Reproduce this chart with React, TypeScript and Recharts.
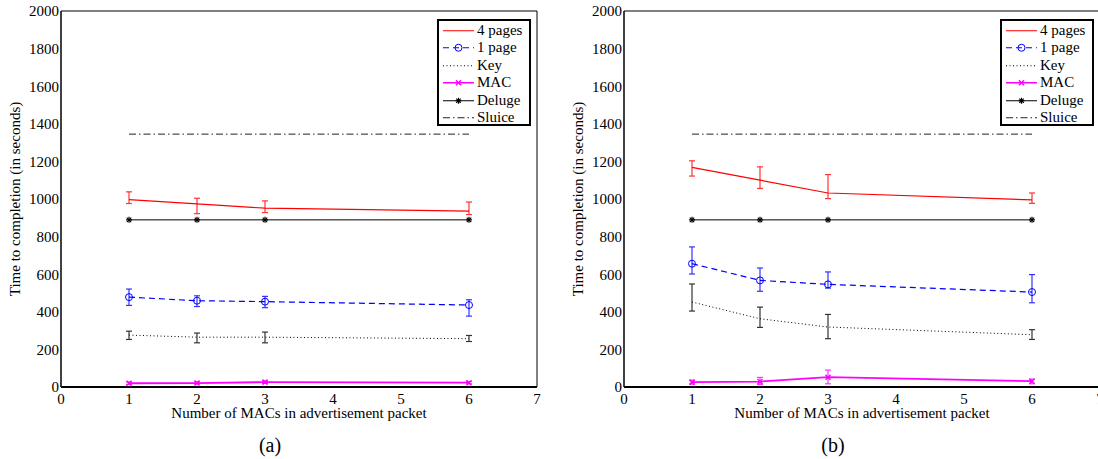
import React from 'react';
import { ComposedChart, Line, XAxis, YAxis, ErrorBar, Legend, Label } from 'recharts';

// ---------- data ----------
const macCounts = [1, 2, 3, 6];
const xTicks = [0, 1, 2, 3, 4, 5, 6, 7];
const yTicks = [0, 200, 400, 600, 800, 1000, 1200, 1400, 1600, 1800, 2000];
const seriesNames = ['4 pages', '1 page', 'Key', 'MAC', 'Deluge', 'Sluice'];
const xAxisTitle = 'Number of MACs in advertisement packet';
const yAxisTitle = 'Time to completion (in seconds)';

// Panel (a)
const aFourPages = [997, 974, 951, 935];
const aFourPagesLow = [976, 922, 928, 917];
const aFourPagesHigh = [1038, 1004, 990, 984];
const aOnePage = [478, 459, 454, 436];
const aOnePageLow = [434, 428, 422, 377];
const aOnePageHigh = [521, 485, 482, 464];
const aKey = [276, 265, 265, 257];
const aKeyLow = [253, 235, 235, 242];
const aKeyHigh = [297, 287, 292, 274];
const aMac = [20, 21, 26, 23];
const aMacLow = [14, 16, 19, 17];
const aMacHigh = [27, 28, 33, 29];
const aDeluge = [889, 889, 889, 889];
const aSluice = [1345, 1345, 1345, 1345];

// Panel (b)
const bFourPages = [1168, 1100, 1032, 995];
const bFourPagesLow = [1122, 1056, 1002, 977];
const bFourPagesHigh = [1203, 1171, 1130, 1032];
const bOnePage = [656, 567, 546, 505];
const bOnePageLow = [601, 509, 526, 448];
const bOnePageHigh = [745, 633, 612, 598];
const bKey = [452, 363, 319, 278];
const bKeyLow = [404, 317, 257, 253];
const bKeyHigh = [548, 425, 386, 305];
const bMac = [26, 29, 52, 31];
const bMacLow = [15, 13, 17, 17];
const bMacHigh = [36, 51, 90, 42];
const bDeluge = [889, 889, 889, 889];
const bSluice = [1345, 1345, 1345, 1345];

const buildRows = (
  p4: number[], p4L: number[], p4H: number[],
  p1: number[], p1L: number[], p1H: number[],
  k: number[], kL: number[], kH: number[],
  m: number[], mL: number[], mH: number[],
  d: number[], s: number[]
) =>
  macCounts.map((x, i) => ({
    x,
    p4: p4[i], p4Err: [p4[i] - p4L[i], p4H[i] - p4[i]],
    p1: p1[i], p1Err: [p1[i] - p1L[i], p1H[i] - p1[i]],
    key: k[i], keyErr: [k[i] - kL[i], kH[i] - k[i]],
    mac: m[i], macErr: [m[i] - mL[i], mH[i] - m[i]],
    deluge: d[i],
    sluice: s[i],
  }));

const dataA = buildRows(aFourPages, aFourPagesLow, aFourPagesHigh, aOnePage, aOnePageLow, aOnePageHigh,
  aKey, aKeyLow, aKeyHigh, aMac, aMacLow, aMacHigh, aDeluge, aSluice);
const dataB = buildRows(bFourPages, bFourPagesLow, bFourPagesHigh, bOnePage, bOnePageLow, bOnePageHigh,
  bKey, bKeyLow, bKeyHigh, bMac, bMacLow, bMacHigh, bDeluge, bSluice);

// ---------- styling ----------
const FONT = 'Liberation Serif';
const RED = '#ff0000';
const BLUE = '#0000ff';
const MAGENTA = '#ff00ff';
const BLACK = '#000000';
const SLUICE = '#222222';

const CircleMark = ({ cx, cy, color }: any) => (
  <circle cx={cx} cy={cy} r={3.5} fill="none" stroke={color} strokeWidth={1} />
);
const XMark = ({ cx, cy, color }: any) => (
  <g stroke={color} strokeWidth={1.5}>
    <line x1={cx - 2.5} y1={cy - 2.5} x2={cx + 2.5} y2={cy + 2.5} />
    <line x1={cx - 2.5} y1={cy + 2.5} x2={cx + 2.5} y2={cy - 2.5} />
  </g>
);
const StarMark = ({ cx, cy, color }: any) => (
  <g stroke={color} strokeWidth={1.2}>
    <line x1={cx - 3} y1={cy} x2={cx + 3} y2={cy} />
    <line x1={cx} y1={cy - 3} x2={cx} y2={cy + 3} />
    <line x1={cx - 2.2} y1={cy - 2.2} x2={cx + 2.2} y2={cy + 2.2} />
    <line x1={cx - 2.2} y1={cy + 2.2} x2={cx + 2.2} y2={cy - 2.2} />
  </g>
);

const dotRenderer = (Mark: any, color: string) => (props: any) => {
  const { cx, cy, index } = props;
  if (cx == null || cy == null) return <g key={`n${index}`} />;
  return <Mark key={`m${index}`} cx={cx} cy={cy} color={color} />;
};

const legendItems = [
  { name: seriesNames[0], color: RED, dash: undefined, mark: null, width: 1 },
  { name: seriesNames[1], color: BLUE, dash: '6 4', mark: CircleMark, width: 1 },
  { name: seriesNames[2], color: BLACK, dash: '1 2.5', mark: null, width: 1 },
  { name: seriesNames[3], color: MAGENTA, dash: undefined, mark: XMark, width: 1.5 },
  { name: seriesNames[4], color: BLACK, dash: undefined, mark: StarMark, width: 1 },
  { name: seriesNames[5], color: SLUICE, dash: '7 3 1.5 3', mark: null, width: 1 },
];

const LegendBox = () => (
  <div
    style={{
      boxSizing: 'border-box',
      width: 94,
      height: 107,
      border: '2px solid #000',
      background: '#fff',
      paddingTop: 0.5,
      fontFamily: FONT,
      fontSize: 15,
      color: '#000',
    }}
  >
    {legendItems.map((it) => {
      const M: any = it.mark;
      return (
        <div key={it.name} style={{ display: 'flex', alignItems: 'center', height: 17.5, lineHeight: '17.5px' }}>
          <svg width={38} height={17.5} style={{ display: 'block', flex: 'none' }}>
            <line x1={4} y1={8.75} x2={35} y2={8.75} stroke={it.color} strokeWidth={it.width} strokeDasharray={it.dash} />
            {M ? <M cx={19.5} cy={8.75} color={it.color} /> : null}
          </svg>
          <span style={{ whiteSpace: 'nowrap', fontFamily: FONT }}>{it.name}</span>
        </div>
      );
    })}
  </div>
);

const tickStyle = { fontFamily: FONT, fontSize: 15, fill: '#000', style: { fontFamily: FONT } };
const labelStyle = { fontFamily: FONT, fontSize: 15, fill: '#000' };

const Panel = ({ data, caption, left }: { data: any[]; caption: string; left: number }) => (
  <div style={{ position: 'absolute', left, top: 0, width: 560, height: 459, fontFamily: FONT }}>
    <ComposedChart
      width={560}
      height={459}
      data={data}
      margin={{ top: 11, right: 23, bottom: 41, left: 0 }}
      style={{ fontFamily: FONT }}
    >
      <XAxis
        xAxisId="x"
        dataKey="x"
        type="number"
        domain={[0, 7]}
        ticks={xTicks}
        interval={0}
        allowDecimals={false}
        height={31}
        tickLine={false}
        tickSize={4}
        tickMargin={2}
        axisLine={{ stroke: '#000', strokeWidth: 2 }}
        tick={tickStyle}
      >
        <Label value={xAxisTitle} position="insideBottom" offset={0} style={labelStyle} />
      </XAxis>
      <XAxis
        xAxisId="xm"
        type="number"
        domain={[0, 7]}
        ticks={xTicks}
        interval={0}
        orientation="bottom"
        mirror
        tick={false}
        tickSize={5}
        axisLine={false}
        tickLine={{ stroke: '#000' }}
      />
      <XAxis
        xAxisId="xt"
        type="number"
        domain={[0, 7]}
        ticks={xTicks}
        interval={0}
        orientation="top"
        mirror
        tick={false}
        tickSize={5}
        axisLine={{ stroke: '#000' }}
        tickLine={{ stroke: '#000' }}
      />
      <YAxis
        yAxisId="y"
        type="number"
        domain={[0, 2000]}
        ticks={yTicks}
        interval={0}
        width={61}
        tickLine={false}
        tickSize={1}
        tickMargin={1}
        axisLine={{ stroke: '#000', strokeWidth: 1.5 }}
        tick={tickStyle}
      >
        <Label
          value={yAxisTitle}
          angle={-90}
          position="insideLeft"
          offset={15}
          style={{ ...labelStyle, textAnchor: 'middle' }}
        />
      </YAxis>
      <YAxis
        yAxisId="ym"
        type="number"
        domain={[0, 2000]}
        ticks={yTicks}
        interval={0}
        orientation="left"
        mirror
        tick={false}
        tickSize={5}
        axisLine={false}
        tickLine={{ stroke: '#000' }}
      />
      <YAxis
        yAxisId="yr"
        type="number"
        domain={[0, 2000]}
        ticks={yTicks}
        interval={0}
        orientation="right"
        mirror
        tick={false}
        tickSize={5}
        axisLine={{ stroke: '#000' }}
        tickLine={{ stroke: '#000' }}
      />
      <Legend
        layout="vertical"
        align="center"
        verticalAlign="middle"
        wrapperStyle={{ left: 437, top: 19, width: 94, height: 107 }}
        content={<LegendBox />}
      />
      <Line
        xAxisId="x" yAxisId="y" dataKey="sluice" name={seriesNames[5]}
        stroke={SLUICE} strokeWidth={1} strokeDasharray="7 3 1.5 3"
        dot={false} activeDot={false} isAnimationActive={false}
      />
      <Line
        xAxisId="x" yAxisId="y" dataKey="deluge" name={seriesNames[4]}
        stroke={BLACK} strokeWidth={1}
        dot={dotRenderer(StarMark, BLACK)} activeDot={false} isAnimationActive={false}
      />
      <Line
        xAxisId="x" yAxisId="y" dataKey="key" name={seriesNames[2]}
        stroke={BLACK} strokeWidth={1} strokeDasharray="1 2.5"
        dot={false} activeDot={false} isAnimationActive={false}
      >
        <ErrorBar dataKey="keyErr" direction="y" width={3} stroke="#333" strokeWidth={1.2} />
      </Line>
      <Line
        xAxisId="x" yAxisId="y" dataKey="mac" name={seriesNames[3]}
        stroke={MAGENTA} strokeWidth={1.8}
        dot={dotRenderer(XMark, MAGENTA)} activeDot={false} isAnimationActive={false}
      >
        <ErrorBar dataKey="macErr" direction="y" width={3} stroke="#ff33ff" strokeWidth={1.2} />
      </Line>
      <Line
        xAxisId="x" yAxisId="y" dataKey="p1" name={seriesNames[1]}
        stroke={BLUE} strokeWidth={1.2} strokeDasharray="6 4"
        dot={dotRenderer(CircleMark, BLUE)} activeDot={false} isAnimationActive={false}
      >
        <ErrorBar dataKey="p1Err" direction="y" width={3} stroke="#3333ff" strokeWidth={1.2} />
      </Line>
      <Line
        xAxisId="x" yAxisId="y" dataKey="p4" name={seriesNames[0]}
        stroke={RED} strokeWidth={1.2}
        dot={false} activeDot={false} isAnimationActive={false}
      >
        <ErrorBar dataKey="p4Err" direction="y" width={3} stroke="#ff3333" strokeWidth={1.2} />
      </Line>
    </ComposedChart>
    <div
      style={{
        position: 'absolute',
        left: 230,
        width: 80,
        top: 433,
        textAlign: 'center',
        fontFamily: FONT,
        fontSize: 20,
        lineHeight: '24px',
        color: '#000',
      }}
    >
      {caption}
    </div>
  </div>
);

export default function App() {
  return (
    <div
      style={{
        position: 'absolute',
        left: 0,
        top: 0,
        width: 1098,
        height: 459,
        overflow: 'hidden',
        background: '#fff',
        fontFamily: FONT,
      }}
    >
      <Panel data={dataA} caption="(a)" left={0} />
      <Panel data={dataB} caption="(b)" left={563} />
    </div>
  );
}
